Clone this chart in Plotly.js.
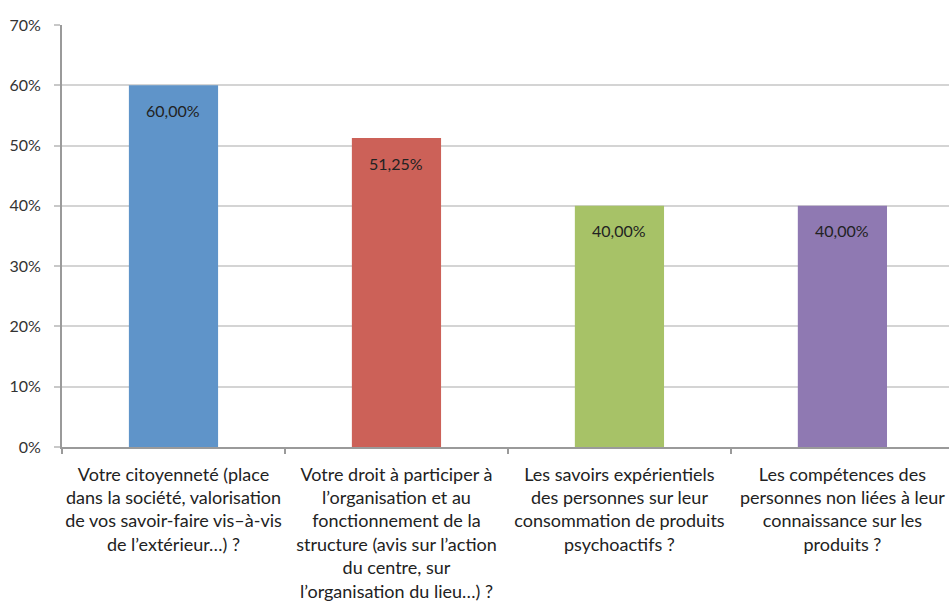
<!DOCTYPE html>
<html>
<head>
<meta charset="utf-8">
<script src="https://cdn.plot.ly/plotly-3.0.1.min.js"></script>
<style>html,body{margin:0;padding:0;background:#fff;}#chart{width:949px;height:601px;}</style>
</head>
<body>
<div id="chart"></div>
<script>
const categories = [
  "Votre citoyenneté (place<br>dans la société, valorisation<br>de vos savoir-faire vis–à-vis<br>de l’extérieur…) ?",
  "Votre droit à participer à<br>l’organisation et au<br>fonctionnement de la<br>structure (avis sur l’action<br>du centre, sur<br>l’organisation du lieu…) ?",
  "Les savoirs expérientiels<br>des personnes sur leur<br>consommation de produits<br>psychoactifs ?",
  "Les compétences des<br>personnes non liées à leur<br>connaissance sur les<br>produits ?"
];
const values = [0.60, 0.5125, 0.40, 0.40];
const valueLabels = ["60,00%", "51,25%", "40,00%", "40,00%"];
const barColors = ["#5f94c9", "#cc6158", "#a7c267", "#8f79b2"];
const yTickVals = [0, 0.1, 0.2, 0.3, 0.4, 0.5, 0.6, 0.7];
const yTickText = ["0%", "10%", "20%", "30%", "40%", "50%", "60%", "70%"];

const font = "Lato, 'Open Sans', sans-serif";

const trace = {
  type: "bar",
  x: categories,
  y: values,
  width: 0.4,
  marker: {color: barColors, line: {width: 0}},
  hoverinfo: "none"
};

const annotations = categories.map((c, i) => ({
  x: c, y: values[i], xref: "x", yref: "y",
  text: valueLabels[i], showarrow: false,
  yanchor: "middle", yshift: -25,
  font: {family: font, size: 16, color: "#222"}
}));

const layout = {
  width: 949, height: 601,
  margin: {l: 62, r: 0, t: 25, b: 154, autoexpand: false},
  paper_bgcolor: "#fff", plot_bgcolor: "#fff",
  showlegend: false,
  bargap: 0.6,
  xaxis: {
    type: "category",
    range: [-0.5, 3.478],
    showgrid: false,
    showline: true, linecolor: "#9a9a9a", linewidth: 2,
    ticks: "outside", tickson: "boundaries", ticklen: 5, tickcolor: "#9a9a9a", tickwidth: 2,
    tickangle: 0,
    tickfont: {family: font, size: 18, color: "#222"},
    ticklabelstandoff: 10,
    automargin: false,
    fixedrange: true
  },
  yaxis: {
    range: [0, 0.7],
    tickvals: yTickVals, ticktext: yTickText,
    showgrid: true, gridcolor: "#d4d4d4", gridwidth: 2,
    showline: true, linecolor: "#9a9a9a", linewidth: 2,
    ticks: "outside", ticklen: 6, tickcolor: "#c8c8c8", tickwidth: 2,
    tickfont: {family: font, size: 16, color: "#333"},
    ticklabelstandoff: 10,
    zeroline: false,
    automargin: false,
    fixedrange: true
  },
  annotations: annotations
};

Plotly.newPlot("chart", [trace], layout, {displayModeBar: false, staticPlot: true});
</script>
</body>
</html>
